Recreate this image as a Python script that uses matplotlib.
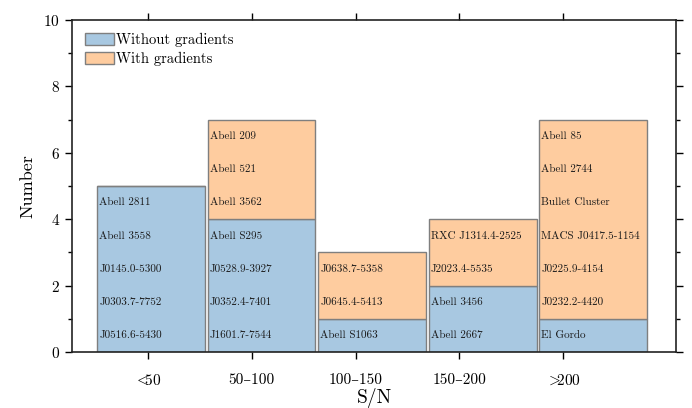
import numpy as np
import matplotlib.pyplot as plt

plt.rcParams['font.family'] = ['cmr10', 'DejaVu Serif']
plt.rcParams['mathtext.fontset'] = 'cm'
plt.rcParams['axes.formatter.use_mathtext'] = True

# =====================================================
# DATA
# =====================================================

bins = [r'$<\!\!\!50$', '50–100', '100–150', '150–200', r'$>\!\!\!200$']

without_grad = [5, 4, 1, 2, 1]
with_grad = [0, 3, 2, 2, 6]

# cluster names, bottom to top in each bar
names_without = [
    ["J0516.6-5430", "J0303.7-7752", "J0145.0-5300", "Abell 3558", "Abell 2811"],
    ["J1601.7-7544", "J0352.4-7401", "J0528.9-3927", "Abell S295"],
    ["Abell S1063"],
    ["Abell 2667", "Abell 3456"],
    ["El Gordo"],
]
names_with = [
    [],
    ["Abell 3562", "Abell 521", "Abell 209"],
    ["J0645.4-5413", "J0638.7-5358"],
    ["J2023.4-5535", "RXC J1314.4-2525"],
    ["J0232.2-4420", "J0225.9-4154", "MACS J0417.5-1154", "Bullet Cluster",
     "Abell 2744", "Abell 85"],
]

# =====================================================
# PLOT
# =====================================================

c_blue = "#a8c8e1"
c_orange = "#fecc9f"
c_edge = "#7f7f7f"

fig, ax = plt.subplots(figsize=(6.92, 4.08), dpi=100)
fig.subplots_adjust(left=0.104, right=0.977, top=0.951, bottom=0.137)

x = np.arange(len(bins))
w = 0.975

ax.bar(x, without_grad, w, color=c_blue, edgecolor=c_edge, linewidth=1.0,
       label="Without gradients")
ax.bar(x, with_grad, w, bottom=without_grad, color=c_orange, edgecolor=c_edge,
       linewidth=1.0, label="With gradients")

for i in range(len(bins)):
    allnames = names_without[i] + names_with[i]
    for k, nm in enumerate(allnames):
        ax.text(x[i] - w / 2 + 0.02, k + 0.5, nm, fontsize=8,
                ha="left", va="center", color="#1a1a1a")

ax.set_xlim(-0.715, 4.75)
ax.set_ylim(0, 10)

tick_pos = x * 0.94 - 0.03
ax.set_xticks(tick_pos)
ax.set_xticklabels(bins)
ax.set_yticks(np.arange(0, 11, 2))
ax.set_yticks(np.arange(1, 10, 2), minor=True)

ax.tick_params(axis="both", which="major", direction="out", length=5,
               width=1.0, labelsize=11, top=True, right=True, bottom=True,
               left=True, labeltop=False, labelright=False)
ax.tick_params(axis="y", which="minor", direction="out", length=3,
               width=1.0, left=True, right=True)
ax.tick_params(axis="x", which="major", pad=10)

for s in ax.spines.values():
    s.set_linewidth(1.2)
    s.set_color("#222222")

ax.set_xlabel("S/N", fontsize=14, labelpad=0)
ax.set_ylabel("Number", fontsize=13, labelpad=6)

ax.legend(loc="upper left", frameon=False, fontsize=10.5, handlelength=2.0,
          handleheight=0.9, handletextpad=0.15, labelspacing=0.3,
          borderaxespad=0.5)

plt.savefig("out.png", dpi=100)
